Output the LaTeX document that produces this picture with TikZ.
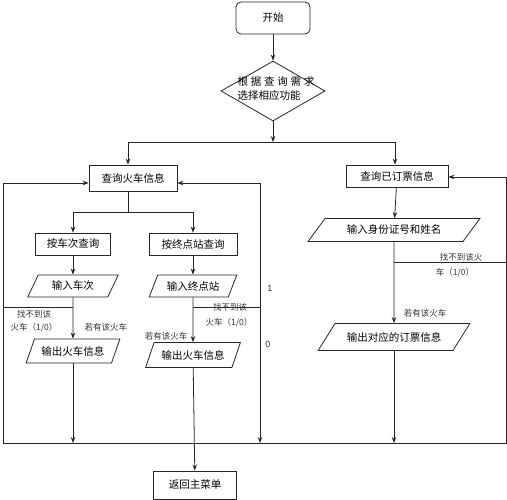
\documentclass[tikz,border=0pt]{standalone}
\usepackage{fontspec}
\setmainfont{Liberation Sans}
\newfontfamily\cjk{Noto Sans CJK SC}
\usetikzlibrary{shapes.geometric,shapes.misc,arrows.meta}
\tikzset{
  base/.style={draw=black!85, line width=0.8pt, font=\cjk\fontsize{10.5}{12}\selectfont, inner sep=0pt},
  procbox/.style={base, rectangle, minimum width=#1},
  startbox/.style={base, rounded corners=5pt, minimum width=74pt, minimum height=32pt},
  iobox/.style={base, trapezium, trapezium left angle=#1, trapezium right angle=180-#1, trapezium stretches=true},
  decbox/.style={base, diamond, aspect=1.73, minimum width=104pt, minimum height=60pt},
  conn/.style={draw=black!85, line width=0.8pt},
  arr/.style={conn, -{Stealth[length=6pt,width=4.5pt]}},
  lbl/.style={font=\cjk\fontsize{8.5}{10}\selectfont, inner sep=0pt, text=black!80},
  num/.style={font=\fontsize{9}{10}\selectfont, inner sep=0pt, text=black!80}
}
\begin{document}
\begin{tikzpicture}[x=1pt,y=-1pt]
\useasboundingbox (0,0) rectangle (507,500);
% nodes
\node[startbox] (start) at (273,18) {开始};
\node[decbox] (dec) at (273,91) {};
\node[base, draw=none, align=left] (dectxt) at (276,89) {\makebox[77pt][s]{根\hfill 据\hfill 查\hfill 询\hfill 需\hfill 求}\\[2pt]选择相应功能\hspace{9pt}};
\node[procbox=88pt, minimum height=26pt] (q1) at (133,178) {查询火车信息};
\node[procbox=102pt, minimum height=22pt] (q2) at (397,176) {查询已订票信息};
\node[procbox=75pt, minimum height=22pt] (b1) at (73,244) {按车次查询};
\node[procbox=88pt, minimum height=22pt] (b2) at (193,244) {按终点站查询};
\node[iobox=57, minimum width=91pt, minimum height=22pt] (in1) at (73,286) {输入车次};
\node[iobox=57, minimum width=88pt, minimum height=22pt] (in2) at (193,286) {输入终点站};
\node[iobox=55, minimum width=94pt, minimum height=24pt] (out1) at (73,351) {输出火车信息};
\node[iobox=55, minimum width=95pt, minimum height=25pt] (out2) at (193,355) {输出火车信息};
\node[iobox=40, minimum width=172pt, minimum height=23pt] (in3) at (394,230) {输入身份证号和姓名};
\node[iobox=36, minimum width=152pt, minimum height=27pt] (out3) at (394,337) {输出对应的订票信息};
\node[procbox=83pt, minimum height=28pt] (ret) at (195,485) {返回主菜单};
% junction coordinates
\coordinate (j0) at (273,142);
\coordinate (jl) at (128,142);
\coordinate (jr) at (395,142);
\coordinate (j1) at (128,212);
\coordinate (j1l) at (73,212);
\coordinate (j1r) at (193,212);
\coordinate (bl1) at (73,307);
\coordinate (fl) at (3,307);
\coordinate (ftl) at (3,183);
\coordinate (fbl) at (3,443);
\coordinate (fbr) at (506,443);
\coordinate (ftr) at (506,177);
\coordinate (bm1) at (193,307);
\coordinate (vm) at (260,307);
\coordinate (vmt) at (260,183);
\coordinate (vmb) at (260,443);
\coordinate (br1) at (394,262);
\coordinate (brr) at (506,262);
\coordinate (bot1) at (73,443);
\coordinate (bot3) at (394,443);
% connectors
\draw[arr] (start) -- (dec);
\draw[arr] (dec) -- (j0);
\draw[conn] (jl) -- (jr);
\draw[arr] (jl) -- (jl |- q1.north);
\draw[arr] (jr) -- (jr |- q2.north);
\draw[arr] (q1.south -| j1) -- (j1) -- (j1l) -- (b1);
\draw[arr] (j1) -- (j1r) -- (b2);
\draw[arr] (b1) -- (in1);
\draw[arr] (b2) -- (in2);
\draw[arr] (in1) -- (out1);
\draw[arr] (in2) -- (out2);
\draw[arr] (bl1) -- (fl) -- (ftl) -- (ftl -| q1.west);
\draw[conn] (fl) -- (fbl) -- (fbr) -- (brr);
\draw[arr] (brr) -- (ftr) -- (ftr -| q2.east);
\draw[conn] (bm1) -- (vm);
\draw[arr] (vm) -- (vmt) -- (vmt -| q1.east);
\draw[arr] (vm) -- (vmb);
\draw[arr] (out1) -- (bot1);
\draw[arr] (out2) -- (ret);
\draw[arr] (q2) -- (in3);
\draw[arr] (in3) -- (out3);
\draw[conn] (br1) -- (brr);
\draw[arr] (out3) -- (bot3);
% labels
\node[lbl] (t1) at (34,314) {找不到该};
\node[lbl] (t2) at (34,328) {火车（1/0）};
\node[lbl] (t3) at (106,327) {若有该火车};
\node[lbl] (t4) at (230,307) {找不到该};
\node[lbl] (t5) at (229,323) {火车（1/0）};
\node[lbl] (t6) at (166,336) {若有该火车};
\node[num] (n1) at (270,288) {1};
\node[num] (n0) at (268,344) {0};
\node[lbl] (t7) at (461,257) {找不到该火};
\node[lbl] (t8) at (455,273) {车（1/0）};
\node[lbl] (t9) at (425,313) {若有该火车};
\end{tikzpicture}
\end{document}
